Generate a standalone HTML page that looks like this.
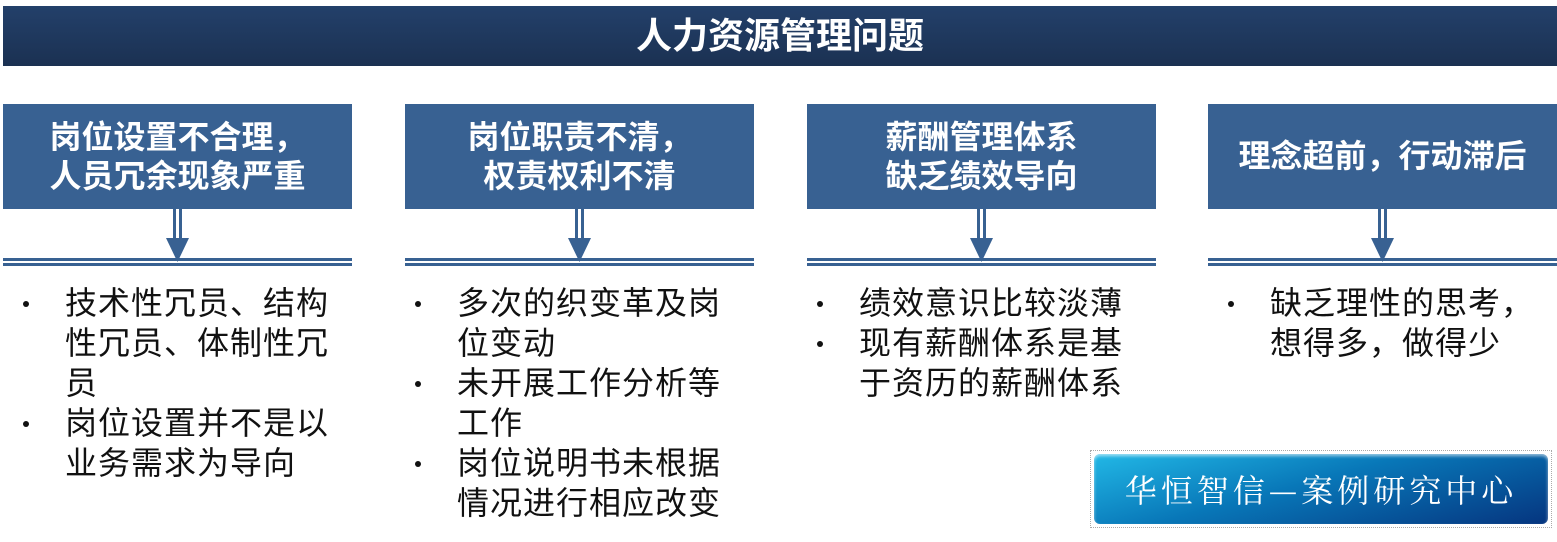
<!DOCTYPE html>
<html><head><meta charset="utf-8"><style>
*{margin:0;padding:0;box-sizing:border-box}
body{width:1557px;height:542px;background:#fff;position:relative;overflow:hidden;font-family:"Liberation Sans","Noto Sans CJK SC",sans-serif}
.title{position:absolute;left:3px;top:6px;width:1554px;height:60px;background:linear-gradient(#23406a,#1b3152);color:#fff;font-weight:bold;font-size:36px;text-align:center;line-height:60px}
.box{position:absolute;top:104px;width:349px;height:105px;background:#386192;color:#fff;font-weight:bold;font-size:32px;line-height:39px;display:flex;align-items:center;justify-content:center;text-align:center}
.list{position:absolute;top:283px;font-size:32px;line-height:40px;color:#111;white-space:nowrap;letter-spacing:1px}
.list div{position:relative;padding-left:62px}
.list div:before{content:"";position:absolute;left:20px;top:18px;width:6px;height:6px;border-radius:50%;background:#111}
.logo{position:absolute;left:1090px;top:450px;width:462px;height:78px;border:1px dotted #aaa;padding:3px}
.logo div{width:100%;height:100%;border-radius:6px;background:linear-gradient(165deg,#22b8e6 0%,#0877b8 45%,#05357f 100%);color:#fff;font-family:"Noto Serif CJK SC",serif;font-size:32px;text-align:center;line-height:70px;letter-spacing:4px;box-shadow:inset 0 2px 3px rgba(255,255,255,.6)}
</style></head><body>
<div class="title">人力资源管理问题</div>
<div class="box" style="left:3px">岗位设置不合理，<br>人员冗余现象严重</div>
<div class="box" style="left:405px">岗位职责不清，<br>权责权利不清</div>
<div class="box" style="left:807px">薪酬管理体系<br>缺乏绩效导向</div>
<div class="box" style="left:1208px">理念超前，行动滞后</div>
<svg width="1557" height="542" style="position:absolute;left:0;top:0">
<g fill="#386192">
<g id="a">
<rect x="3" y="258" width="349" height="3"/><rect x="3" y="263" width="349" height="3"/>
<rect x="173" y="209" width="3" height="32"/><rect x="179" y="209" width="3" height="32"/>
<polygon points="166,238 189,238 177.5,262"/>
</g>
<use href="#a" x="402"/><use href="#a" x="804"/><use href="#a" x="1205"/>
</g></svg>
<div class="list" style="left:3px"><div>技术性冗员、结构<br>性冗员、体制性冗<br>员</div><div>岗位设置并不是以<br>业务需求为导向</div></div>
<div class="list" style="left:395px"><div>多次的织变革及岗<br>位变动</div><div>未开展工作分析等<br>工作</div><div>岗位说明书未根据<br>情况进行相应改变</div></div>
<div class="list" style="left:797px"><div>绩效意识比较淡薄</div><div>现有薪酬体系是基<br>于资历的薪酬体系</div></div>
<div class="list" style="left:1208px"><div>缺乏理性的思考，<br>想得多，做得少</div></div>
<div class="logo"><div>华恒智信—案例研究中心</div></div>
</body></html>
